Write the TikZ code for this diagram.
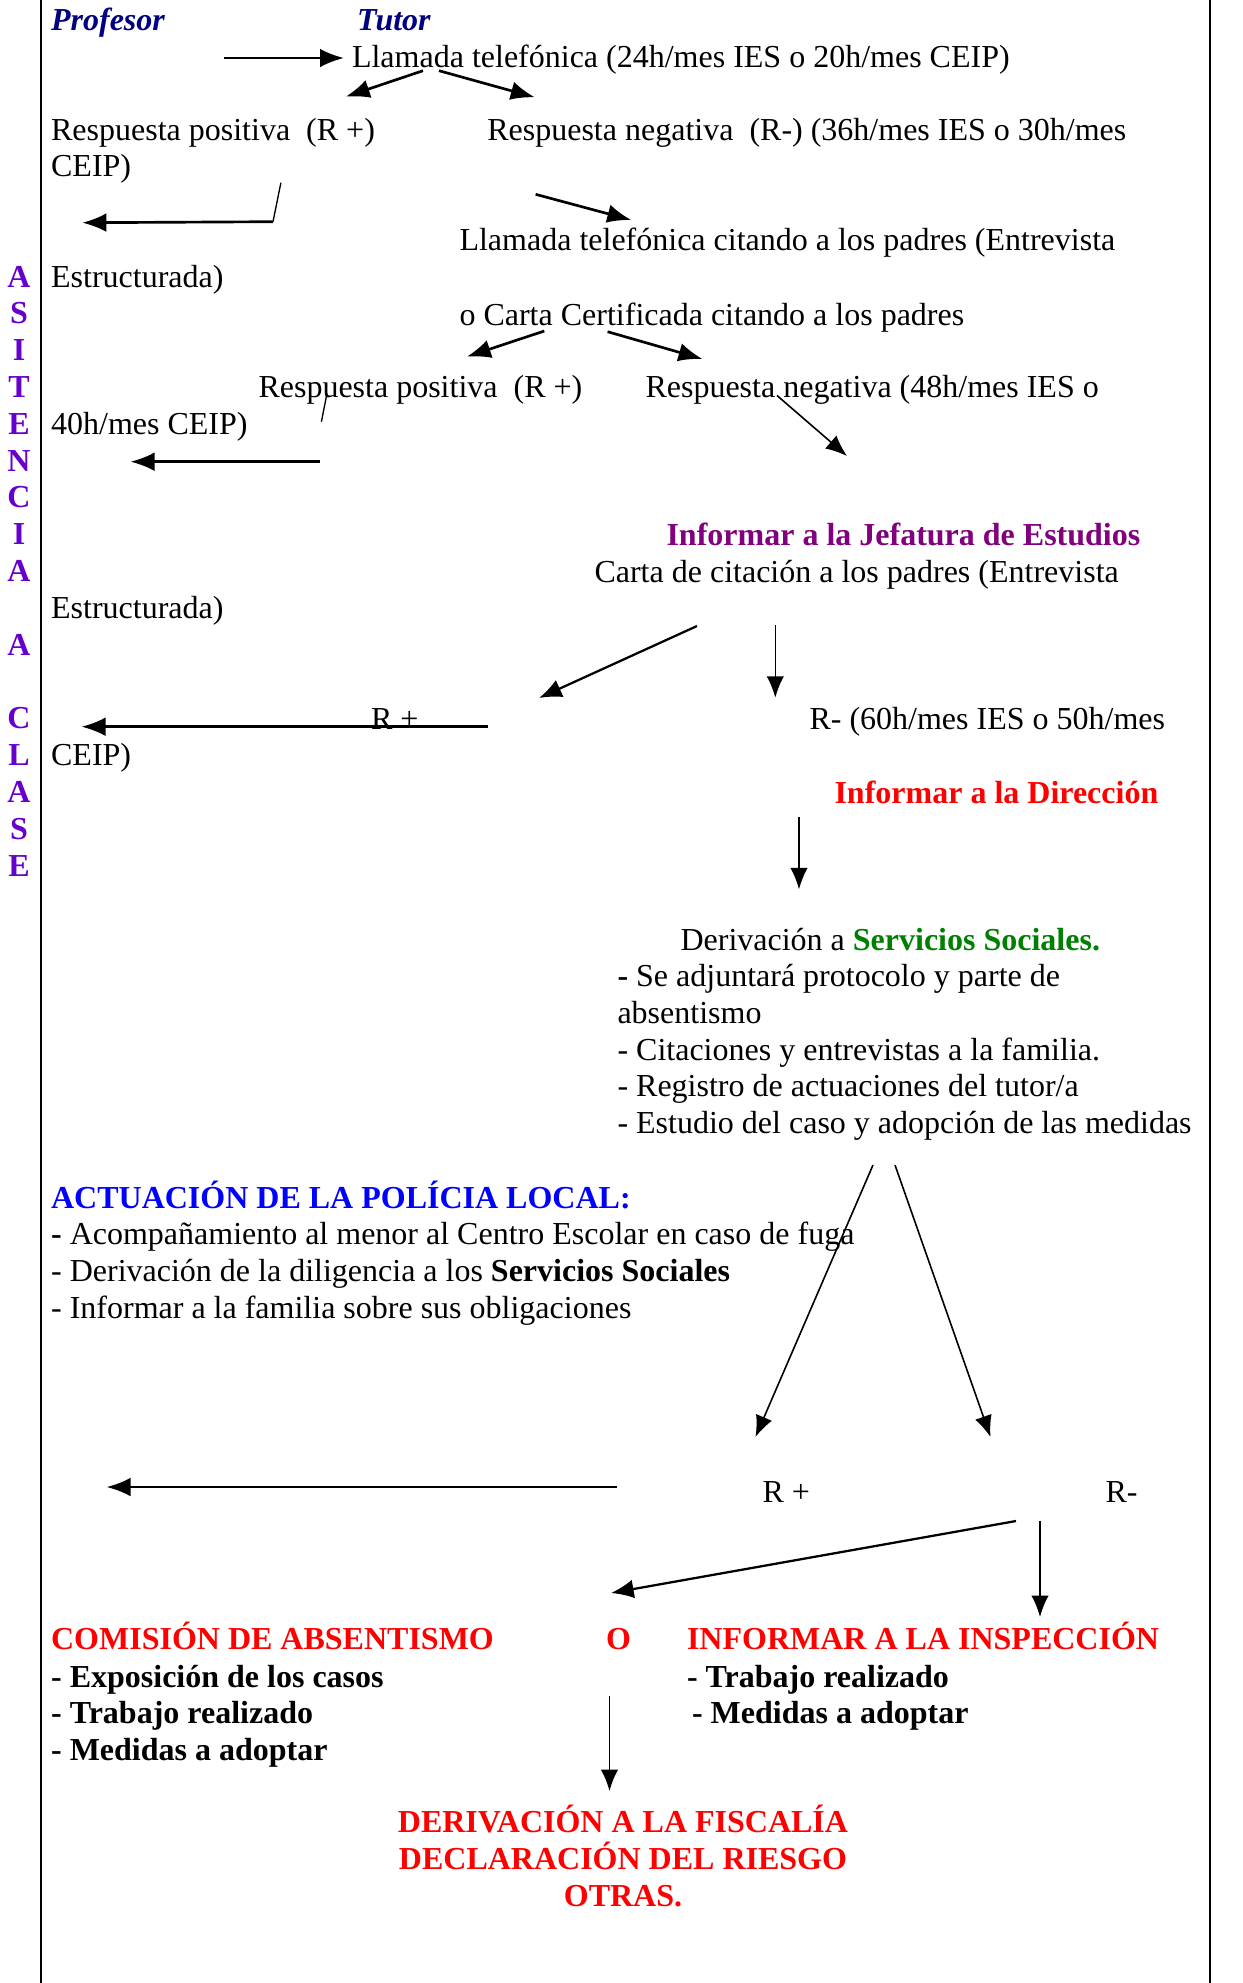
\documentclass[tikz,border=0pt,12pt]{standalone}
\usepackage{fontspec}
\setmainfont{Liberation Serif}
\usetikzlibrary{arrows.meta}

\definecolor{profblue}{RGB}{0,0,128}
\definecolor{letraviolet}{RGB}{102,0,204}
\definecolor{jefpurple}{RGB}{128,0,128}
\definecolor{ssgreen}{RGB}{0,128,0}

\begin{document}
\begin{tikzpicture}[
		x=0.375pt, y=-0.375pt,
		txt/.style={anchor=base west, inner sep=0pt},
		head/.style={txt, font=\bfseries},
		arrow/.style={-{Latex[length=9pt, width=7pt]}, line width=1pt},
		midarrow/.style={-{Latex[length=8.5pt, width=7pt]}, line width=0.85pt},
		thinarrow/.style={-{Latex[length=8pt, width=6.5pt]}, line width=0.6pt},
		tick/.style={line width=0.5pt}
		]
		\useasboundingbox (0,0) rectangle (1243,1983);
		
		% Marco
		\draw[line width=0.75pt] (41,0) -- (41,1983);
		\draw[line width=0.75pt] (1210,0) -- (1210,1983);
		
		% Columna vertical
		\foreach \k/\ch in {0/A,1/S,2/I,3/T,4/E,5/N,6/C,7/I,8/A,10/A,12/C,13/L,14/A,15/S,16/E}
			\node[anchor=base, inner sep=0pt, font=\bfseries, text=letraviolet] (letra\k) at (19,287+36.83*\k) {\ch};
		
		% Encabezado
		\node[head, font=\bfseries\itshape, text=profblue] (profesor) at (50.6,30) {Profesor};
		\node[head, font=\bfseries\itshape, text=profblue] (tutor) at (356.6,30) {Tutor};
		
		% Primera llamada
		\node[txt] (llamada) at (351.5,67) {Llamada telefónica (24h/mes IES o 20h/mes CEIP)};
		\node[txt] (rpos1) at (50.6,140) {Respuesta positiva\ \ (R +)};
		\node[txt] (rneg1) at (486.8,140) {Respuesta negativa\ \ (R-) (36h/mes IES o 30h/mes};
		\node[txt] (ceip1) at (50.6,176) {CEIP)};
		
		% Segunda llamada o carta
		\node[txt] (citando) at (459,250) {Llamada telefónica citando a los padres (Entrevista};
		\node[txt] (estruct1) at (50.6,287) {Estructurada)};
		\node[txt] (carta) at (459,325) {o Carta Certificada citando a los padres};
		\node[txt] (rpos2) at (258,397) {Respuesta positiva\ \ (R +)};
		\node[txt] (rneg2) at (645,397) {Respuesta negativa (48h/mes IES o};
		\node[txt] (ceip2) at (50.6,434) {40h/mes CEIP)};
		
		% Jefatura de Estudios
		\node[head, text=jefpurple] (jefatura) at (666,545) {Informar a la Jefatura de Estudios};
		\node[txt] (citacion) at (594,582) {Carta de citación a los padres (Entrevista};
		\node[txt] (estruct2) at (50.6,618) {Estructurada)};
		\node[txt] (rpos3) at (370.5,729) {R +};
		\node[txt] (rneg3) at (809,729) {R- (60h/mes IES o 50h/mes};
		\node[txt] (ceip3) at (50.6,765) {CEIP)};
		
		% Direccion
		\node[head, text=red] (direccion) at (834,803) {Informar a la Dirección};
		
		% Servicios Sociales
		\node[txt] (sociales) at (680,950) {Derivación a \textbf{\textcolor{ssgreen}{Servicios Sociales.}}};
		\node[txt] (ss1) at (617,986) {\textbf{-} Se adjuntará protocolo y parte de};
		\node[txt] (ss2) at (617,1023) {absentismo};
		\node[txt] (ss3) at (617,1060) {- Citaciones y entrevistas a la familia.};
		\node[txt] (ss4) at (617,1096) {- Registro de actuaciones del tutor/a};
		\node[txt] (ss5) at (617,1133) {- Estudio del caso y adopción de las medidas};
		
		% Policia local
		\node[head, text=blue] (policia) at (50.6,1208) {ACTUACIÓN DE LA POLÍCIA LOCAL:};
		\node[txt] (pol1) at (50.6,1244) {\textbf{-} Acompañamiento al menor al Centro Escolar en caso de fuga};
		\node[txt] (pol2) at (50.6,1281) {- Derivación de la diligencia a los \textbf{Servicios Sociales}};
		\node[txt] (pol3) at (50.6,1318) {- Informar a la familia sobre sus obligaciones};
		
		\node[txt] (rpos4) at (762,1502) {R +};
		\node[txt] (rneg4) at (1105,1502) {R-};
		
		% Comision o Inspeccion
		\node[head, text=red] (comision) at (50.6,1649) {COMISIÓN DE ABSENTISMO};
		\node[head, text=red] (o) at (605.5,1649) {O};
		\node[head, text=red] (inspeccion) at (686.5,1649) {INFORMAR A LA INSPECCIÓN};
		\node[head] (com1) at (50.6,1687) {- Exposición de los casos};
		\node[head] (com2) at (50.6,1723) {- Trabajo realizado};
		\node[head] (com3) at (50.6,1760) {- Medidas a adoptar};
		\node[head] (ins1) at (686.5,1687) {- Trabajo realizado};
		\node[head] (ins2) at (691.5,1723) {- Medidas a adoptar};
		
		% Fiscalia
		\node[head, anchor=base, text=red] (fiscalia) at (623,1832) {DERIVACIÓN A LA FISCALÍA};
		\node[head, anchor=base, text=red] (riesgo) at (623,1869) {DECLARACIÓN DEL RIESGO};
		\node[head, anchor=base, text=red] (otras) at (623,1906) {OTRAS.};
		
		% Puntos de las flechas
		\coordinate (llamadaIn) at (224,58);
		\coordinate (llamadaOut) at (344,58);
		\coordinate (ll1) at (423,70.7);
		\coordinate (ll1b) at (345.7,96.7);
		\coordinate (ll2) at (439,70.7);
		\coordinate (ll2b) at (534.8,97.3);
		\coordinate (tickA) at (280.9,182.7);
		\coordinate (tickAb) at (273,221.7);
		\coordinate (posOut1) at (82.3,222.7);
		\coordinate (neg1) at (535.6,194.3);
		\coordinate (neg1b) at (631.3,220);
		\coordinate (ca1) at (544.3,331);
		\coordinate (ca1b) at (466.8,356.7);
		\coordinate (ca2) at (607.6,331.7);
		\coordinate (ca2b) at (702.5,359);
		\coordinate (tickB) at (327,393.3);
		\coordinate (tickBb) at (321.4,421.7);
		\coordinate (posIn2) at (320.4,461.7);
		\coordinate (posOut2) at (130.5,461.7);
		\coordinate (neg2) at (777,395.5);
		\coordinate (neg2b) at (847,456);
		\coordinate (jef1) at (697,626);
		\coordinate (jef1b) at (539,698);
		\coordinate (jef2) at (775.3,625);
		\coordinate (jef2b) at (775.3,697.7);
		\coordinate (posIn3) at (488,726.7);
		\coordinate (posOut3) at (81.5,726.7);
		\coordinate (dir) at (799,816.7);
		\coordinate (dirb) at (799,889.3);
		\coordinate (ss) at (873,1165);
		\coordinate (ssPos) at (755.5,1437);
		\coordinate (ssb) at (895,1165);
		\coordinate (ssNeg) at (990.5,1437);
		\coordinate (posIn4) at (617,1487);
		\coordinate (posOut4) at (106.5,1487);
		\coordinate (neg4) at (1016,1521);
		\coordinate (neg4b) at (611,1593);
		\coordinate (neg4c) at (1040,1520.5);
		\coordinate (neg4d) at (1040,1617);
		\coordinate (fis) at (609.5,1695.5);
		\coordinate (fisb) at (609.5,1791);
		
		% Flechas
		\draw[arrow] (llamadaIn) -- (llamadaOut);
		\draw[arrow] (ll1) -- (ll1b);
		\draw[arrow] (ll2) -- (ll2b);
		\draw[tick] (tickA) -- (tickAb);
		\draw[arrow] (tickAb) -- (posOut1);
		\draw[arrow] (neg1) -- (neg1b);
		\draw[arrow] (ca1) -- (ca1b);
		\draw[arrow] (ca2) -- (ca2b);
		\draw[tick] (tickB) -- (tickBb);
		\draw[arrow] (posIn2) -- (posOut2);
		\draw[thinarrow] (neg2) -- (neg2b);
		\draw[midarrow] (jef1) -- (jef1b);
		\draw[thinarrow] (jef2) -- (jef2b);
		\draw[arrow] (posIn3) -- (posOut3);
		\draw[thinarrow] (dir) -- (dirb);
		\draw[thinarrow] (ss) -- (ssPos);
		\draw[thinarrow] (ssb) -- (ssNeg);
		\draw[arrow] (posIn4) -- (posOut4);
		\draw[midarrow] (neg4) -- (neg4b);
		\draw[thinarrow] (neg4c) -- (neg4d);
		\draw[thinarrow] (fis) -- (fisb);
		
	\end{tikzpicture}
\end{document}
